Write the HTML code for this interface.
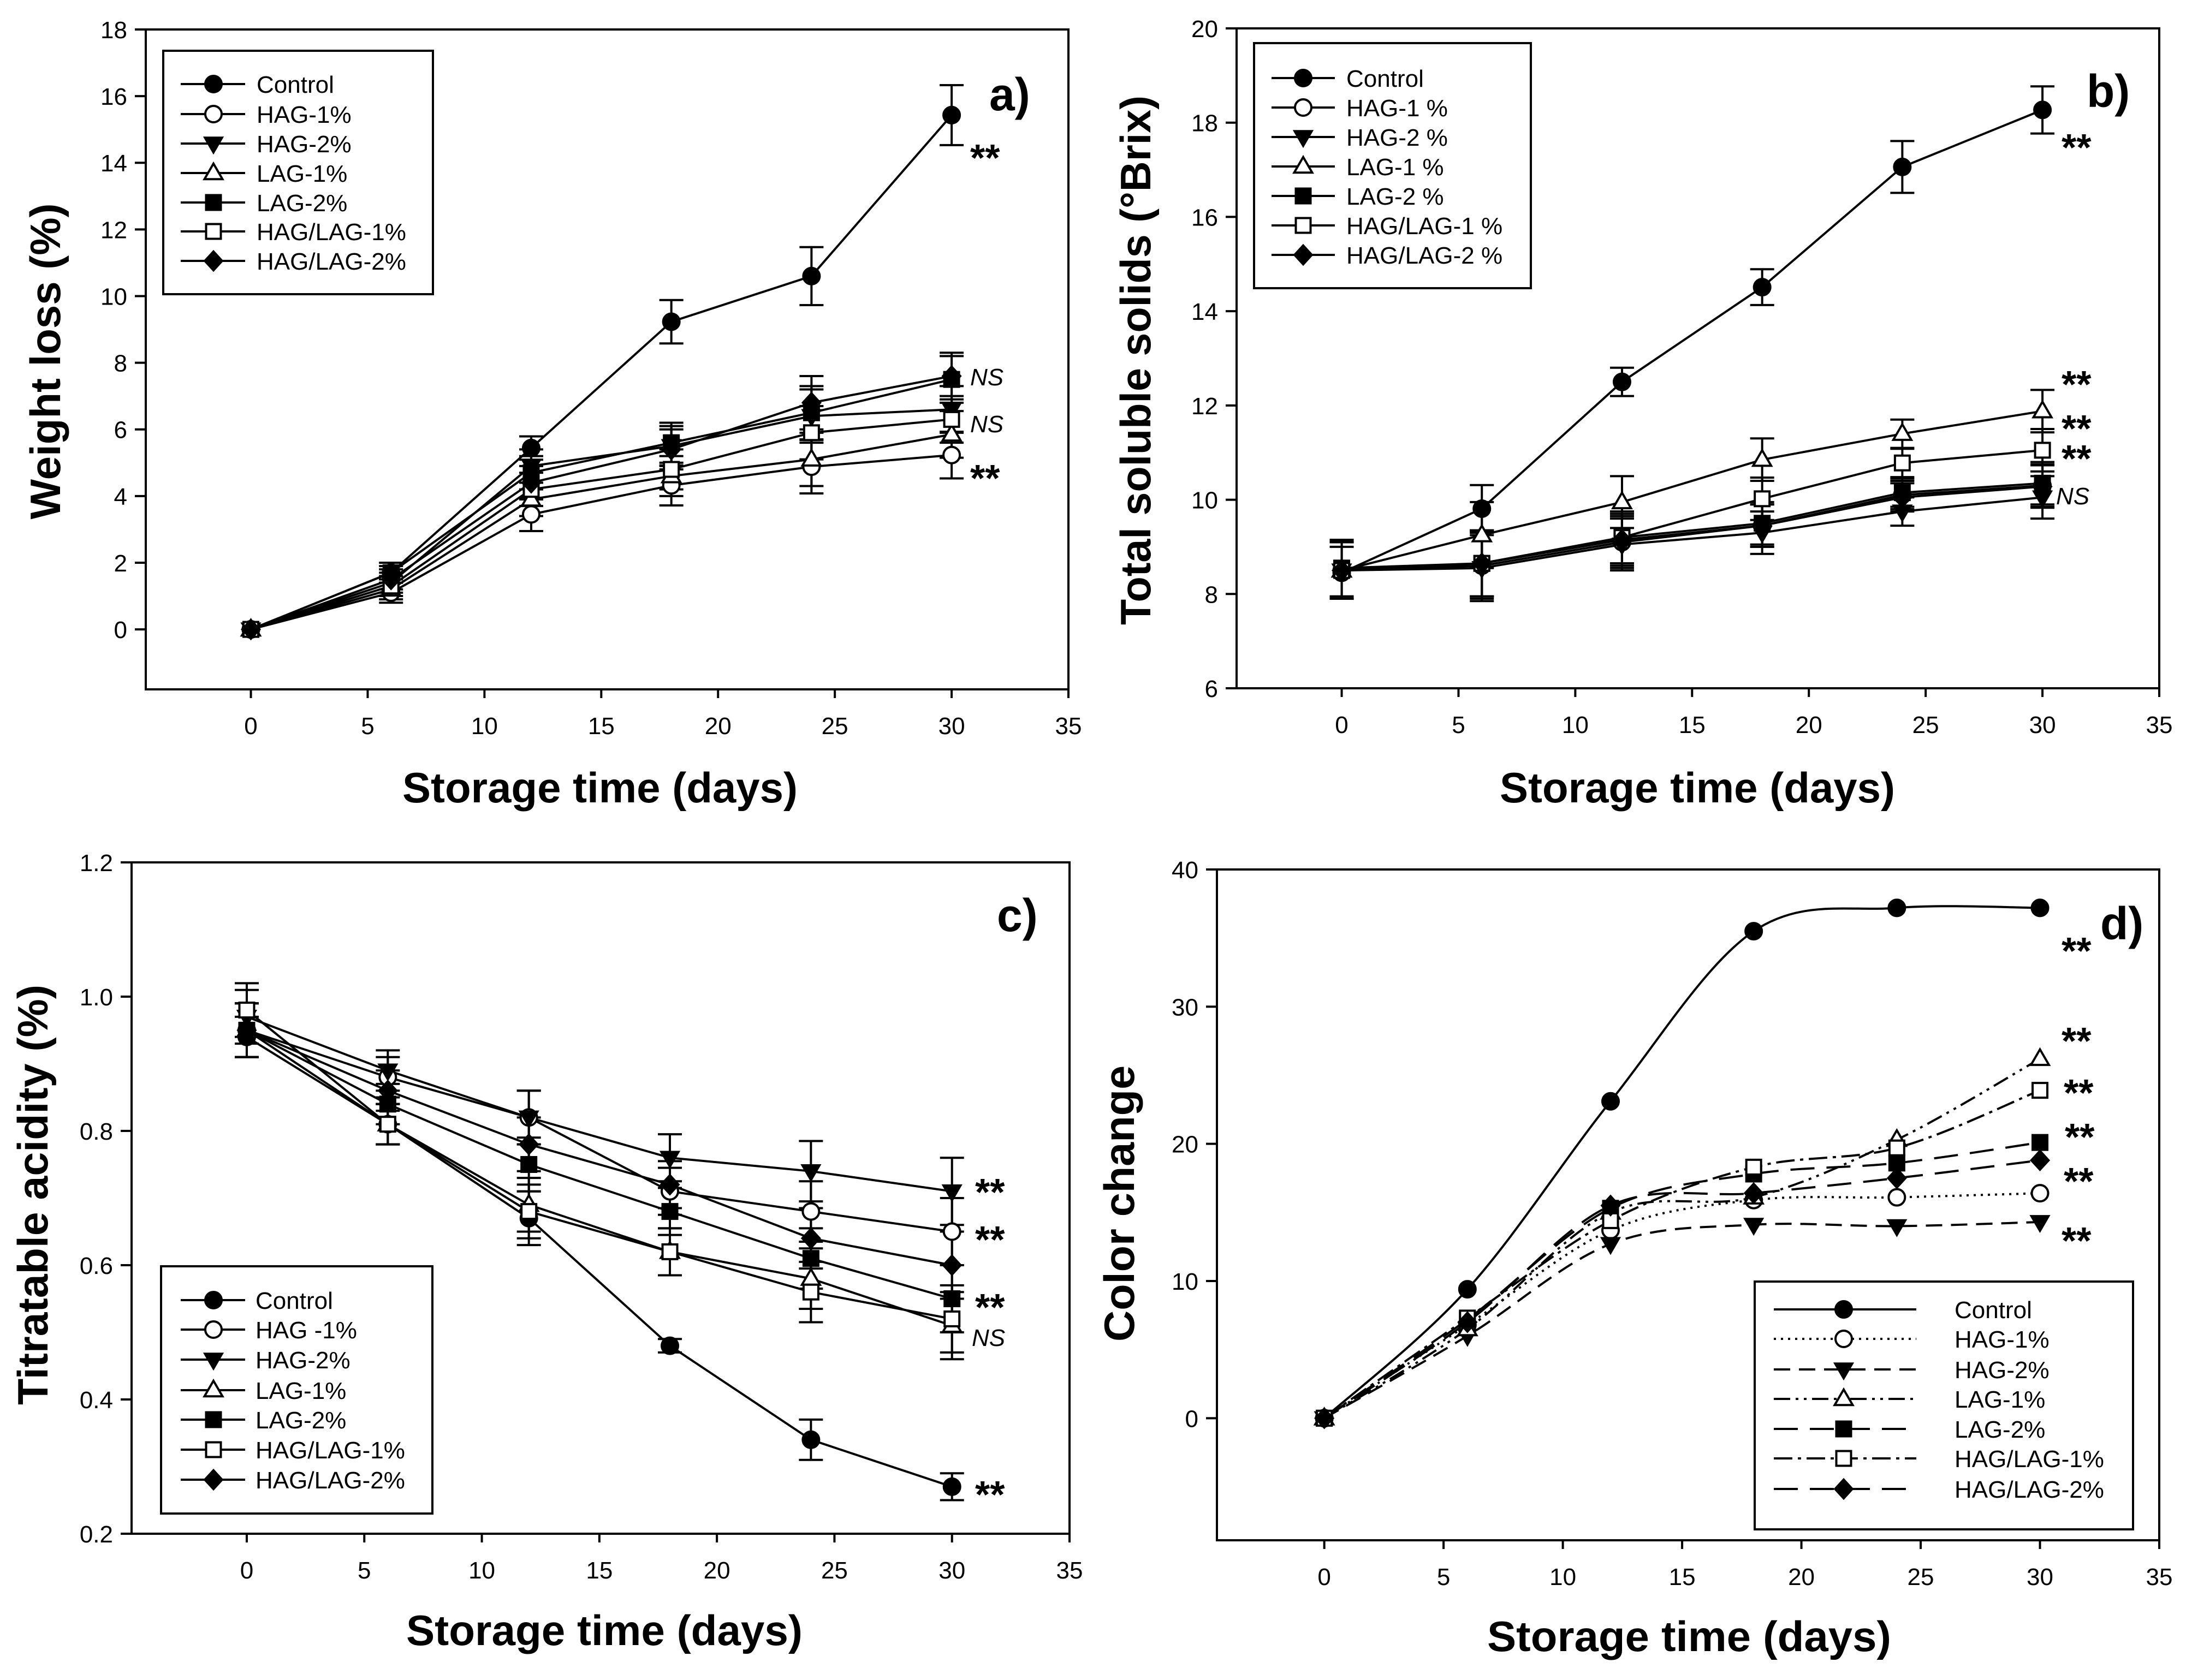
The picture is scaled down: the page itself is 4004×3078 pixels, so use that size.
<!DOCTYPE html>
<html><head><meta charset="utf-8">
<style>
html,body{margin:0;padding:0;background:#fff;}
svg{display:block;font-family:"Liberation Sans",Arial,sans-serif;}
</style></head>
<body>
<svg id="fig" xmlns="http://www.w3.org/2000/svg" width="4004" height="3078" viewBox="0 0 4004 3078">
<rect x="0" y="0" width="4004" height="3078" fill="#fff"/>
</svg>
<script>
// ---------- shared data ----------
const days = [0, 6, 12, 18, 24, 30];
const xTicks = [0, 5, 10, 15, 20, 25, 30, 35];

// ---------- panel a: weight loss ----------
const aNames = ["Control","HAG-1%","HAG-2%","LAG-1%","LAG-2%","HAG/LAG-1%","HAG/LAG-2%"];
const aControl = [0, 1.7, 5.44, 9.23, 10.6, 15.43];
const aHag1 = [0, 1.1, 3.45, 4.32, 4.88, 5.23];
const aHag2 = [0, 1.4, 4.9, 5.5, 6.4, 6.6];
const aLag1 = [0, 1.2, 3.9, 4.6, 5.1, 5.85];
const aLag2 = [0, 1.7, 4.7, 5.6, 6.5, 7.5];
const aHl1 = [0, 1.3, 4.2, 4.8, 5.9, 6.3];
const aHl2 = [0, 1.5, 4.4, 5.4, 6.8, 7.6];
const aErrControl = [0, 0.2, 0.35, 0.65, 0.87, 0.9];
const aErrOthers = [0, 0.3, 0.5, 0.6, 0.8, 0.7];
const aYTicks = [0, 2, 4, 6, 8, 10, 12, 14, 16, 18];

// ---------- panel b: total soluble solids ----------
const bNames = ["Control","HAG-1 %","HAG-2 %","LAG-1 %","LAG-2 %","HAG/LAG-1 %","HAG/LAG-2 %"];
const bControl = [8.45, 9.81, 12.5, 14.51, 17.06, 18.27];
const bHag1 = [8.5, 8.6, 9.1, 9.45, 10.1, 10.3];
const bHag2 = [8.5, 8.55, 9.05, 9.3, 9.75, 10.05];
const bLag1 = [8.5, 9.25, 9.95, 10.85, 11.4, 11.88];
const bLag2 = [8.55, 8.65, 9.2, 9.5, 10.15, 10.35];
const bHl1 = [8.5, 8.65, 9.2, 10.02, 10.78, 11.05];
const bHl2 = [8.5, 8.65, 9.15, 9.45, 10.05, 10.28];
const bErrControl = [0.55, 0.5, 0.3, 0.38, 0.55, 0.5];
const bErrOthers = [0.6, 0.7, 0.55, 0.45, 0.3, 0.45];
const bYTicks = [6, 8, 10, 12, 14, 16, 18, 20];

// ---------- panel c: titratable acidity ----------
const cNames = ["Control","HAG -1%","HAG-2%","LAG-1%","LAG-2%","HAG/LAG-1%","HAG/LAG-2%"];
const cControl = [0.94, 0.81, 0.67, 0.48, 0.34, 0.27];
const cHag1 = [0.95, 0.88, 0.82, 0.71, 0.68, 0.65];
const cHag2 = [0.97, 0.89, 0.82, 0.76, 0.74, 0.71];
const cLag1 = [0.95, 0.81, 0.69, 0.62, 0.58, 0.51];
const cLag2 = [0.95, 0.84, 0.75, 0.68, 0.61, 0.55];
const cHl1 = [0.98, 0.81, 0.68, 0.62, 0.56, 0.52];
const cHl2 = [0.95, 0.86, 0.78, 0.72, 0.64, 0.60];
const cErrControl = [0.03, 0.03, 0.04, 0.01, 0.03, 0.02];
const cErrOthers = [0.04, 0.03, 0.04, 0.035, 0.045, 0.05];
const cYTicks = [0.2, 0.4, 0.6, 0.8, 1.0, 1.2];
const cYTickLabels = ["0.2","0.4","0.6","0.8","1.0","1.2"];

// ---------- panel d: color change ----------
const dNames = ["Control","HAG-1%","HAG-2%","LAG-1%","LAG-2%","HAG/LAG-1%","HAG/LAG-2%"];
const dControl = [0, 9.4, 23.1, 35.5, 37.2, 37.2];
const dHag1 = [0, 6.8, 13.7, 15.9, 16.1, 16.4];
const dHag2 = [0, 6.0, 12.7, 14.1, 14.0, 14.3];
const dLag1 = [0, 6.5, 15.0, 16.1, 20.3, 26.2];
const dLag2 = [0, 7.2, 15.3, 17.8, 18.6, 20.1];
const dHl1 = [0, 7.3, 14.4, 18.3, 19.7, 23.9];
const dHl2 = [0, 7.0, 15.5, 16.4, 17.5, 18.8];
const dYTicks = [0, 10, 20, 30, 40];

const NS = "http://www.w3.org/2000/svg";
const svg = document.getElementById('fig');
function mk(tag, attrs, parent){
  const e = document.createElementNS(NS, tag);
  for (const k in attrs) e.setAttribute(k, attrs[k]);
  (parent||svg).appendChild(e);
  return e;
}
const markerKinds = ["fcircle","ocircle","dtri","otri","fsquare","osquare","diamond"];

function drawMarker(g, kind, cx, cy, s){
  let el;
  const r = s;
  if (kind === "fcircle" || kind === "ocircle") {
    el = mk('circle', {cx:cx, cy:cy, r:r, fill: kind==="fcircle"?"#000":"#fff", stroke:"#000", "stroke-width":4}, g);
  } else if (kind === "dtri") {
    el = mk('polygon', {points:`${cx-r*1.1},${cy-r*0.75} ${cx+r*1.1},${cy-r*0.75} ${cx},${cy+r*1.15}`, fill:"#000", stroke:"#000", "stroke-width":3}, g);
  } else if (kind === "otri") {
    el = mk('polygon', {points:`${cx-r*1.1},${cy+r*0.75} ${cx+r*1.1},${cy+r*0.75} ${cx},${cy-r*1.15}`, fill:"#fff", stroke:"#000", "stroke-width":4}, g);
  } else if (kind === "fsquare" || kind === "osquare") {
    el = mk('rect', {x:cx-r*0.9, y:cy-r*0.9, width:r*1.8, height:r*1.8, fill: kind==="fsquare"?"#000":"#fff", stroke:"#000", "stroke-width":4}, g);
  } else {
    el = mk('polygon', {points:`${cx},${cy-r*1.2} ${cx+r*1.1},${cy} ${cx},${cy+r*1.2} ${cx-r*1.1},${cy}`, fill:"#000", stroke:"#000", "stroke-width":3}, g);
  }
  
  
  return el;
}

function smoothPath(pts){
  let d = `M${pts[0][0]},${pts[0][1]}`;
  for (let i=0;i<pts.length-1;i++){
    const p0 = pts[Math.max(0,i-1)], p1 = pts[i], p2 = pts[i+1], p3 = pts[Math.min(pts.length-1,i+2)];
    const c1x = p1[0] + (p2[0]-p0[0])/6, c1y = p1[1] + (p2[1]-p0[1])/6;
    const c2x = p2[0] - (p3[0]-p1[0])/6, c2y = p2[1] - (p3[1]-p1[1])/6;
    d += ` C${c1x},${c1y} ${c2x},${c2y} ${p2[0]},${p2[1]}`;
  }
  return d;
}

function drawPanel(cfg){
  const g = mk('g', {});
  
  
  const L=cfg.box[0], T=cfg.box[1], R=cfg.box[2], B=cfg.box[3];
  const sx = v => L + (v - cfg.xd[0])/(cfg.xd[1]-cfg.xd[0])*(R-L);
  const sy = v => B - (v - cfg.yd[0])/(cfg.yd[1]-cfg.yd[0])*(B-T);

  const frame = mk('rect', {x:L, y:T, width:R-L, height:B-T, fill:"none", stroke:"#000", "stroke-width":4}, g);
  
  

  xTicks.forEach(t => {
    const x = sx(t);
    mk('line', {x1:x, y1:B, x2:x, y2:B+16, stroke:"#000", "stroke-width":4}, g);
    const tx = mk('text', {x:x, y:B+82, "font-size":44, "text-anchor":"middle", fill:"#000"}, g);
    tx.textContent = t;
    
    
  });
  cfg.yt.forEach((t,i) => {
    const y = sy(t);
    mk('line', {x1:L-20, y1:y, x2:L, y2:y, stroke:"#000", "stroke-width":4}, g);
    const ty = mk('text', {x:L-34, y:y+16, "font-size":44, "text-anchor":"end", fill:"#000"}, g);
    ty.textContent = cfg.ytl ? cfg.ytl[i] : t;
    
    
  });

  const xt = mk('text', {x:cfg.xTitle[0], y:cfg.xTitle[1], "font-size":78, "font-weight":"bold", "text-anchor":"middle", textLength:cfg.xTitle[2], lengthAdjust:"spacingAndGlyphs"}, g);
  xt.textContent = "Storage time (days)";
  
  
  const yt = mk('text', {x:0, y:0, "font-size":78, "font-weight":"bold", "text-anchor":"middle", textLength:cfg.yTitle[3], lengthAdjust:"spacingAndGlyphs", transform:`translate(${cfg.yTitle[0]+27},${cfg.yTitle[1]}) rotate(-90)`}, g);
  yt.textContent = cfg.yTitle[2];
  
  

  const pl = mk('text', {x:cfg.label[0], y:cfg.label[1], "font-size":84, "font-weight":"bold"}, g);
  pl.textContent = cfg.label[2];
  
  

  cfg.series.forEach((s, si) => {
    const pts = days.map((d,i) => [sx(d), sy(s.vals[i])]);
    const attrs = {fill:"none", stroke:"#000", "stroke-width":4};
    if (s.dash) attrs["stroke-dasharray"] = s.dash;
    attrs.d = cfg.smooth ? smoothPath(pts) : "M" + pts.map(p=>p.join(",")).join(" L");
    const ln = mk('path', attrs, g);
    
    
  });
  cfg.series.forEach((s) => {
    if (!s.errs) return;
    days.forEach((d,i) => {
      const e = s.errs[i];
      if (!e) return;
      const x = sx(d), y1 = sy(s.vals[i]-e), y2 = sy(s.vals[i]+e);
      const eb = mk('path', {d:`M${x},${y1} L${x},${y2} M${x-22},${y1} L${x+22},${y1} M${x-22},${y2} L${x+22},${y2}`, stroke:"#000", "stroke-width":4, fill:"none"}, g);
      
      
    });
  });
  cfg.series.forEach((s, si) => {
    days.forEach((d,i) => drawMarker(g, markerKinds[si], sx(d), sy(s.vals[i]), 15));
  });

  cfg.notes.forEach(n => {
    const isNS = n[2] === "NS";
    const t = mk('text', {x:n[0], y: isNS ? n[1]+15 : n[1]+40, "font-size": isNS?44:70, "font-style": isNS?"italic":"normal", "font-weight": isNS?"normal":"bold"}, g);
    t.textContent = n[2];
    
    
  });

  const lg = cfg.legend;
  const lgG = mk('g', {}, g);
  
  
  mk('rect', {x:lg.box[0], y:lg.box[1], width:lg.box[2]-lg.box[0], height:lg.box[3]-lg.box[1], fill:"#fff", stroke:"#000", "stroke-width":4}, lgG);
  cfg.series.forEach((s, si) => {
    const y = lg.rows[si];
    const ent = mk('g', {}, lgG);
    
    
    const la = {x1:lg.line[0], y1:y, x2:lg.line[1], y2:y, stroke:"#000", "stroke-width":4};
    if (s.dash) la["stroke-dasharray"] = s.dash;
    mk('line', la, ent);
    drawMarker(ent, markerKinds[si], lg.mx, y, 15);
    const tt = mk('text', {x:lg.tx, y:y+16, "font-size":44}, ent);
    tt.textContent = s.name;
  });
}

const solidSeries = (names, arrs, errs) => arrs.map((v,i) => ({name:names[i], vals:v, errs: i===0?errs[0]:errs[1]}));

drawPanel({
  id:"panel-a-weight-loss", box:[267,54,1957,1263], xd:[-4.5,35], yd:[-1.8,18], yt:aYTicks,
  xTitle:[1099,1470,724], yTitle:[83,662,"Weight loss (%)",579], label:[1812,202,"a)"],
  series: solidSeries(aNames,[aControl,aHag1,aHag2,aLag1,aLag2,aHl1,aHl2],[aErrControl,aErrOthers]),
  notes:[[1777,273,"**"],[1777,691,"NS"],[1777,777,"NS"],[1777,860,"**"]],
  legend:{box:[299,93,793,539], rows:[154,209,263,317,371,424,478], line:[331,449], mx:391, tx:470}
});
drawPanel({
  id:"panel-b-total-soluble-solids", box:[2265,52,3955,1261], xd:[-4.5,35], yd:[6,20], yt:bYTicks,
  xTitle:[3109,1470,724], yTitle:[2080,660,"Total soluble solids (°Brix)",970], label:[3822,196,"b)"],
  series: solidSeries(bNames,[bControl,bHag1,bHag2,bLag1,bLag2,bHl1,bHl2],[bErrControl,bErrOthers]),
  notes:[[3776,254,"**"],[3776,688,"**"],[3776,769,"**"],[3776,824,"**"],[3766,909,"NS"]],
  legend:{box:[2297,79,2804,528], rows:[143,197,251,305,359,413,467], line:[2329,2445], mx:2387, tx:2466}
});
drawPanel({
  id:"panel-c-titratable-acidity", box:[241,1580,1959,2810], xd:[-4.9,35], yd:[0.2,1.2], yt:cYTicks, ytl:cYTickLabels,
  xTitle:[1107,3014,726], yTitle:[60,2189,"Titratable acidity (%)",770], label:[1826,1706,"c)"],
  series: solidSeries(cNames,[cControl,cHag1,cHag2,cLag1,cLag2,cHl1,cHl2],[cErrControl,cErrOthers]),
  notes:[[1786,2168,"**"],[1786,2255,"**"],[1786,2379,"**"],[1780,2451,"NS"],[1786,2722,"**"]],
  legend:{box:[295,2320,792,2773], rows:[2382,2436,2491,2547,2601,2656,2711], line:[331,449], mx:391, tx:468}
});
const dDashes = [null, "4 9", "30 16", "30 10 5 10 5 10", "44 22", "34 10 6 10", "44 22"];
drawPanel({
  id:"panel-d-color-change", box:[2229,1593,3955,2822], xd:[-4.5,35], yd:[-8.9,40], yt:dYTicks, smooth:true,
  xTitle:[3094,3025,740], yTitle:[2050,2205,"Color change",506], label:[3847,1721,"d)"],
  series: [dControl,dHag1,dHag2,dLag1,dLag2,dHl1,dHl2].map((v,i)=>({name:dNames[i], vals:v, dash:dDashes[i]})),
  notes:[[3776,1726,"**"],[3776,1891,"**"],[3780,1986,"**"],[3782,2067,"**"],[3780,2148,"**"],[3776,2257,"**"]],
  legend:{box:[3214,2348,3907,2802], rows:[2399,2453,2509,2563,2618,2672,2728], line:[3249,3510], mx:3377, tx:3580}
});
</script>
</body></html>
